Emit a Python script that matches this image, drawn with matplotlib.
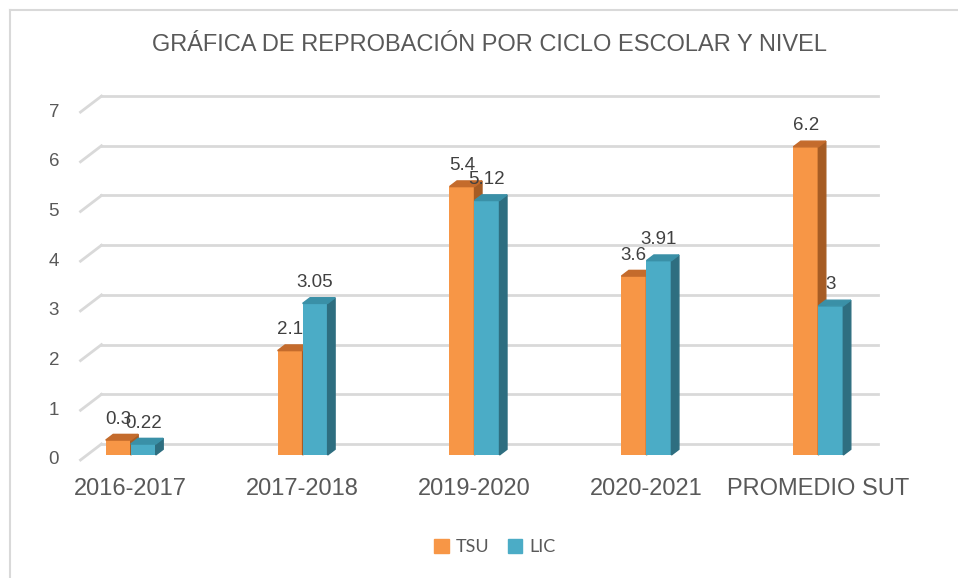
import matplotlib
matplotlib.use('Agg')
import matplotlib.pyplot as plt
from matplotlib.patches import Polygon, Patch
from matplotlib.lines import Line2D
import numpy as np

# chart data
ciclos = ['2016-2017', '2017-2018', '2019-2020', '2020-2021', 'PROMEDIO SUT']
tsu = [0.3, 2.1, 5.4, 3.6, 6.2]
lic = [0.22, 3.05, 5.12, 3.91, 3]
y_ticks = [0, 1, 2, 3, 4, 5, 6, 7]

# colours: front, top, side
tsu_colors = ('#F79646', '#C46B2C', '#A65C24')
lic_colors = ('#4BACC6', '#3A90A7', '#2E6E80')
grid_color = '#D9D9D9'
text_color = '#595959'

W, H = 958, 578
fig = plt.figure(figsize=(W / 100, H / 100), dpi=100)

# bar plane layout in pixels
x_lo, x_hi = -0.26, 4.26
px_left, px_right = 86.0, 863.0
px_y0, px_per_unit = 455.0, 49.7
y_top = 7
ax = fig.add_axes([px_left / W, (H - px_y0) / H, (px_right - px_left) / W,
                   y_top * px_per_unit / H])
ax.set_xlim(x_lo, x_hi)
ax.set_ylim(0, y_top)
ax.axis('off')

px_per_x = (px_right - px_left) / (x_hi - x_lo)


def dxp(p):
    return p / px_per_x


def dyp(p):
    return p / px_per_unit


# back wall gridlines and the short floor stubs
back_dx, back_dy = dxp(15.5), dyp(11)
front_dx, front_dy = dxp(-5.5), dyp(-5)
for v in y_ticks:
    ax.add_line(Line2D([x_lo + back_dx, x_hi + back_dx], [v + back_dy, v + back_dy],
                       color=grid_color, lw=2, clip_on=False, zorder=0))
    ax.add_line(Line2D([x_lo + front_dx, x_lo + back_dx], [v + front_dy, v + back_dy],
                       color=grid_color, lw=2, clip_on=False, zorder=0))
    ax.text(x_lo + dxp(-27), v + front_dy, str(v), ha='right', va='center',
            fontsize=13.5, color=text_color, family='Liberation Sans')

# 3D-looking bars
x = np.arange(len(ciclos))
bw = dxp(25)
ddx, ddy = dxp(7.5), dyp(5.7)


def bar3d(x0, h, colors, z):
    front, top, side = colors
    ax.bar(x0, h, bw, align='edge', color=front, zorder=z, clip_on=False)
    x1 = x0 + bw
    ax.add_patch(Polygon([(x1, 0), (x1 + ddx, ddy), (x1 + ddx, h + ddy), (x1, h)],
                         closed=True, color=side, zorder=z, clip_on=False))
    ax.add_patch(Polygon([(x0, h), (x1, h), (x1 + ddx, h + ddy), (x0 + ddx, h + ddy)],
                         closed=True, color=top, zorder=z, clip_on=False))


for i in range(len(ciclos)):
    bar3d(x[i] - bw, tsu[i], tsu_colors, 2)
    bar3d(x[i], lic[i], lic_colors, 3)

# data labels
for i in range(len(ciclos)):
    ax.text(x[i] - bw / 2, tsu[i] + dyp(21), f'{tsu[i]:g}', ha='center', va='center',
            fontsize=13.5, color='#404040', family='Liberation Sans', zorder=5)
    ax.text(x[i] + bw / 2, lic[i] + dyp(21), f'{lic[i]:g}', ha='center', va='center',
            fontsize=13.5, color='#404040', family='Liberation Sans', zorder=5)

# category labels
for i, c in enumerate(ciclos):
    ax.text(x[i], -dyp(34), c, ha='center', va='center', fontsize=17,
            color=text_color, family='Liberation Sans')

# title
fig.text(490 / W, 1 - 45 / H, 'GRÁFICA DE REPROBACIÓN POR CICLO ESCOLAR Y NIVEL',
         ha='center', va='center', fontsize=17, color=text_color,
         family='Liberation Sans')

# legend
handles = [Patch(color=tsu_colors[0], label='TSU'), Patch(color=lic_colors[0], label='LIC')]
fig.legend(handles=handles, loc='center', bbox_to_anchor=(495 / W, 1 - 547 / H), ncol=2,
           frameon=False, handlelength=0.8, handleheight=0.8, handletextpad=0.4,
           columnspacing=1.0, prop={'family': 'Lato', 'size': 13}, labelcolor=text_color)

# outer frame (left and top edges visible)
fig.add_artist(Line2D([10 / W, 10 / W], [0, 1 - 10 / H], color=grid_color, lw=1.5))
fig.add_artist(Line2D([10 / W, 1], [1 - 10 / H, 1 - 10 / H], color=grid_color, lw=1.5))

fig.savefig('out.png', dpi=100)
